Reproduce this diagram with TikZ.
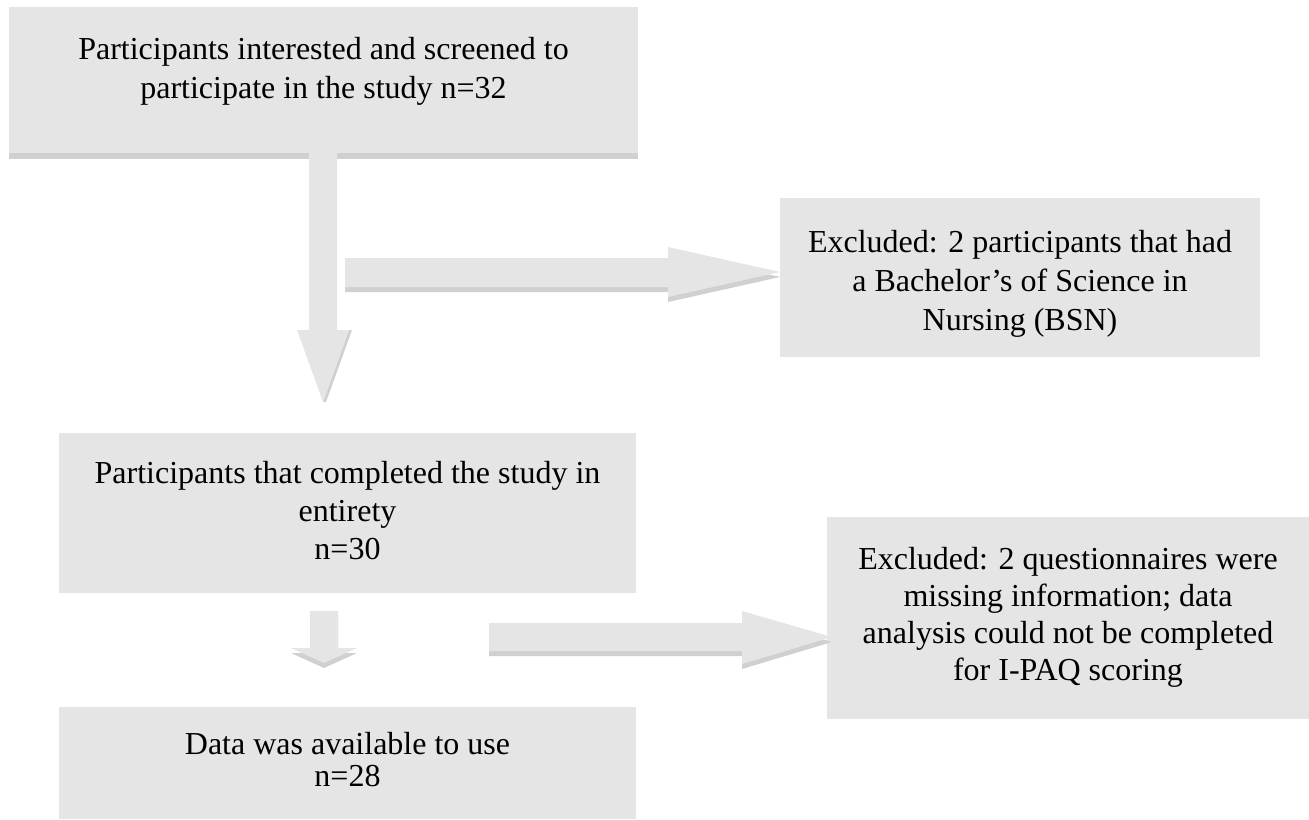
\documentclass[tikz,border=0pt]{standalone}
\usepackage{fontspec}
\setmainfont{Liberation Serif}
\definecolor{boxgray}{RGB}{229,229,229}
\definecolor{shadowgray}{RGB}{208,208,208}
\begin{document}
\begin{tikzpicture}[x=0.5pt,y=-0.5pt,
  box/.style={fill=boxgray, draw=none, inner sep=0pt, anchor=north west},
  txt/.style={align=center, font=\fontsize{16}{19.5}\selectfont, inner sep=0pt},
  arr/.style={fill=boxgray},
  arrshadow/.style={fill=shadowgray, yshift=-2.5pt}]
\useasboundingbox (0,0) rectangle (1309,819);

% box shadow for first box
\fill[shadowgray] (9,13) rectangle (638,159);

% boxes
\node[box, minimum width=314.5pt, minimum height=73pt] (b1) at (9,7) {};
\node[box, minimum width=240pt, minimum height=79.5pt] (b2) at (780,198) {};
\node[box, minimum width=288.5pt, minimum height=80pt] (b3) at (59,433) {};
\node[box, minimum width=288.5pt, minimum height=56pt] (b4) at (59,707) {};
\node[box, minimum width=241pt, minimum height=101pt] (b5) at (827,517) {};

% arrow 1 (down, from b1)
\fill[shadowgray] (349,330) -- (352,330) -- (326,402) -- (323,402) -- cycle;
\fill[arr] (309,153) -- (337,153) -- (337,330) -- (349,330) -- (323,402) -- (297,330) -- (309,330) -- cycle;

% arrow 2 (right, toward b2)
\fill[arrshadow] (345,258) -- (668,258) -- (668,247) -- (780,272) -- (668,297) -- (668,287) -- (345,287) -- cycle;
\fill[arr] (345,258) -- (668,258) -- (668,247) -- (780,272) -- (668,297) -- (668,287) -- (345,287) -- cycle;

% arrow 3 (small down, toward b4)
\fill[arrshadow] (310,611) -- (338,611) -- (338,648) -- (357,648) -- (324,663) -- (291,648) -- (310,648) -- cycle;
\fill[arr] (310,611) -- (338,611) -- (338,648) -- (357,648) -- (324,663) -- (291,648) -- (310,648) -- cycle;

% arrow 4 (right, toward b5)
\fill[arrshadow] (489,623) -- (742,623) -- (742,611) -- (832,637) -- (742,664) -- (742,651) -- (489,651) -- cycle;
\fill[arr] (489,623) -- (742,623) -- (742,611) -- (832,637) -- (742,664) -- (742,651) -- (489,651) -- cycle;

% texts
\node[txt] (t1) at (323.5,71) {Participants interested and screened to\\participate in the study n=32};
\node[txt] (t2) at (1020,284) {Excluded: 2 participants that had\\a Bachelor’s of Science in\\Nursing (BSN)};
\node[txt, font=\fontsize{16}{19}\selectfont] (t3) at (347.5,511) {Participants that completed the study in\\entirety\\n=30};
\node[txt, font=\fontsize{16}{16}\selectfont] (t4) at (347.5,760) {Data was available to use\\n=28};
\node[txt, font=\fontsize{16}{18.5}\selectfont] (t5) at (1068,617) {Excluded: 2 questionnaires were\\missing information; data\\analysis could not be completed\\for I-PAQ scoring};
\end{tikzpicture}
\end{document}
